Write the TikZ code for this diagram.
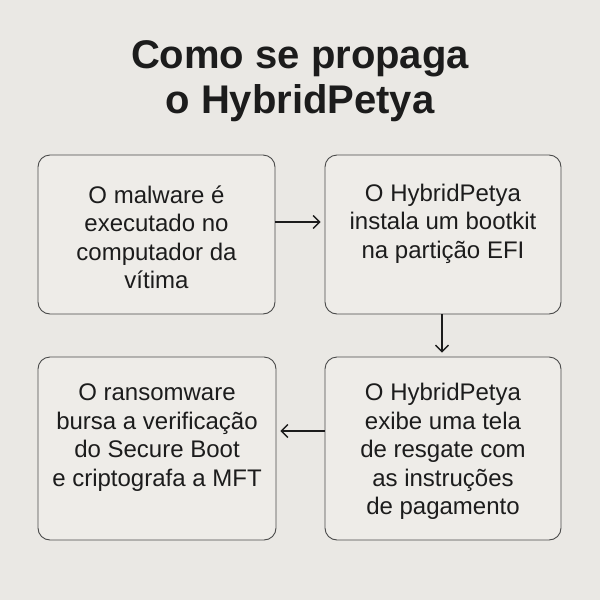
\documentclass[tikz,border=0pt]{standalone}
\usepackage{fontspec}
\setmainfont{Liberation Sans}
\usetikzlibrary{arrows.meta}
\definecolor{bgc}{HTML}{EAE8E4}
\definecolor{boxc}{HTML}{EEECE8}
\definecolor{edgec}{HTML}{4A4A4A}
\definecolor{inkc}{HTML}{1C1C1C}
\tikzset{
  stepbox/.style={draw=edgec, line width=0.9pt, fill=boxc, rounded corners=12pt, inner sep=0pt},
  steptext/.style={text=inkc, align=center, font=\fontsize{24}{28.5}\selectfont, inner sep=0pt},
  titletext/.style={text=inkc, align=center, font=\fontsize{40}{45}\selectfont\bfseries, inner sep=0pt},
  flow/.style={draw=inkc, line width=1.4pt, -{Straight Barb[length=6.5pt,width=13pt,line width=1.4pt]}, shorten >=4pt}
}
\begin{document}
\begin{tikzpicture}[x=1pt,y=-1pt]
\fill[bgc] (0,0) rectangle (600,600);
\useasboundingbox (0,0) rectangle (600,600);

\node[titletext] (title) at (300,81) {Como se propaga\\o HybridPetya};

\node[stepbox, minimum width=237pt, minimum height=159pt] (b1) at (156.5,234.5) {};
\node[stepbox, minimum width=236pt, minimum height=159pt] (b2) at (443,234.5) {};
\node[stepbox, minimum width=238pt, minimum height=183pt] (b3) at (157,448.5) {};
\node[stepbox, minimum width=236pt, minimum height=183pt] (b4) at (443,448.5) {};

\node[steptext] (t1) at (156.5,237.5) {O malware é\\executado no\\computador da\\vítima};
\node[steptext] (t2) at (443,223.5) {O HybridPetya\\instala um bootkit\\na partição EFI};
\node[steptext] (t3) at (157,437.5) {O ransomware\\bursa a verificação\\do Secure Boot\\e criptografa a MFT};
\node[steptext] (t4) at (443,451.5) {O HybridPetya\\exibe uma tela\\de resgate com\\as instruções\\de pagamento};

\draw[flow] (b1.east |- 0,222) -- (b2.west |- 0,222);
\draw[flow] (b2.south -| 442,0) -- (b4.north -| 442,0);
\draw[flow] (b4.west |- 0,431) -- (b3.east |- 0,431);
\end{tikzpicture}
\end{document}
